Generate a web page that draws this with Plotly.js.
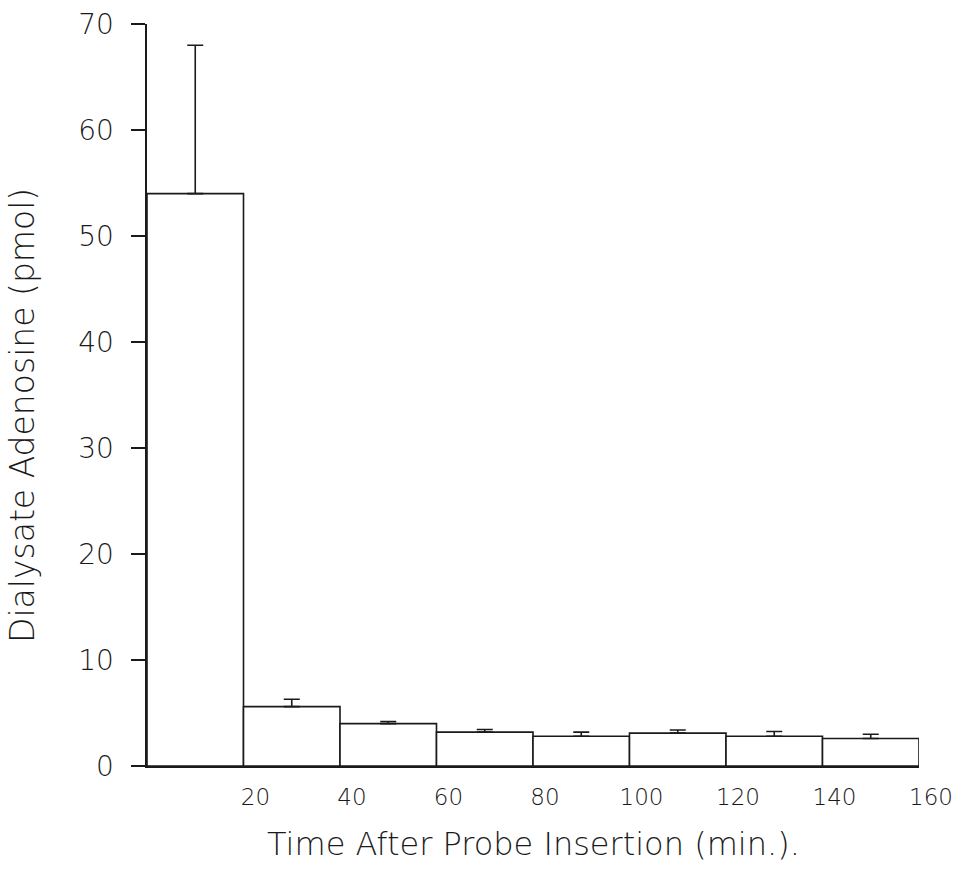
<!DOCTYPE html>
<html>
<head>
<meta charset="utf-8">
<script src="https://cdn.plot.ly/plotly-3.0.1.min.js"></script>
<style>
  html, body { margin: 0; padding: 0; background: #fff; }
  #chart { width: 961px; height: 877px; }
</style>
</head>
<body>
<div id="chart"></div>
<script>
// Dialysate adenosine collected in 20-minute fractions after probe insertion
const binMidpoints = [10, 30, 50, 70, 90, 110, 130, 150];   // min
const binWidth = 20;                                        // min
const adenosine = [54.0, 5.6, 4.0, 3.2, 2.8, 3.1, 2.8, 2.6]; // pmol
const sem = [14.0, 0.7, 0.2, 0.25, 0.4, 0.3, 0.45, 0.4];    // pmol (upper bar only)
const xTickVals = [20, 40, 60, 80, 100, 120, 140, 160];
const yTickVals = [0, 10, 20, 30, 40, 50, 60, 70];
const xTitle = 'Time After Probe Insertion (min.).';
const yTitle = 'Dialysate Adenosine (pmol)';

const ink = '#1a1a1a';
const face = 'DejaVu Sans, Verdana, sans-serif';
const thin = 200;

const trace = {
  type: 'bar',
  x: binMidpoints,
  y: adenosine,
  width: binMidpoints.map(() => binWidth),
  marker: { color: '#ffffff', line: { color: ink, width: 1.6 } },
  error_y: {
    type: 'data',
    symmetric: false,
    array: sem,
    arrayminus: sem.map(() => 0),
    color: ink,
    thickness: 1.6,
    width: 8
  },
  hoverinfo: 'x+y'
};

const layout = {
  width: 961,
  height: 877,
  margin: { l: 147, r: 42, t: 24, b: 111 },
  paper_bgcolor: '#ffffff',
  plot_bgcolor: '#ffffff',
  showlegend: false,
  bargap: 0,
  font: { family: face, color: ink, weight: thin },
  xaxis: {
    range: [0, 160],
    tickvals: xTickVals,
    ticktext: xTickVals.map(String),
    ticks: '',
    showgrid: false,
    zeroline: false,
    showline: true,
    linecolor: ink,
    linewidth: 1.6,
    ticklabelstandoff: 10,
    ticklabelshift: 12,
    tickfont: { family: face, size: 23, color: ink, weight: thin }
  },
  yaxis: {
    range: [0, 70],
    tickvals: yTickVals,
    ticktext: yTickVals.map(String),
    ticks: 'outside',
    ticklen: 14,
    tickwidth: 1.6,
    tickcolor: ink,
    showgrid: false,
    zeroline: false,
    showline: true,
    linecolor: ink,
    linewidth: 1.6,
    ticklabelstandoff: 12,
    tickfont: { family: face, size: 28, color: ink, weight: thin }
  },
  // axis titles placed as paper-anchored text
  annotations: [
    {
      text: xTitle,
      xref: 'paper', yref: 'paper',
      x: 0.5, y: -0.105,
      xanchor: 'center', yanchor: 'middle',
      showarrow: false,
      font: { family: face, size: 32, color: ink, weight: thin }
    },
    {
      text: yTitle,
      xref: 'paper', yref: 'paper',
      x: -0.1606, y: 0.4717,
      xanchor: 'center', yanchor: 'middle',
      textangle: -90,
      showarrow: false,
      font: { family: face, size: 33, color: ink, weight: thin }
    }
  ]
};

Plotly.newPlot('chart', [trace], layout, { staticPlot: true, displayModeBar: false });
</script>
</body>
</html>
